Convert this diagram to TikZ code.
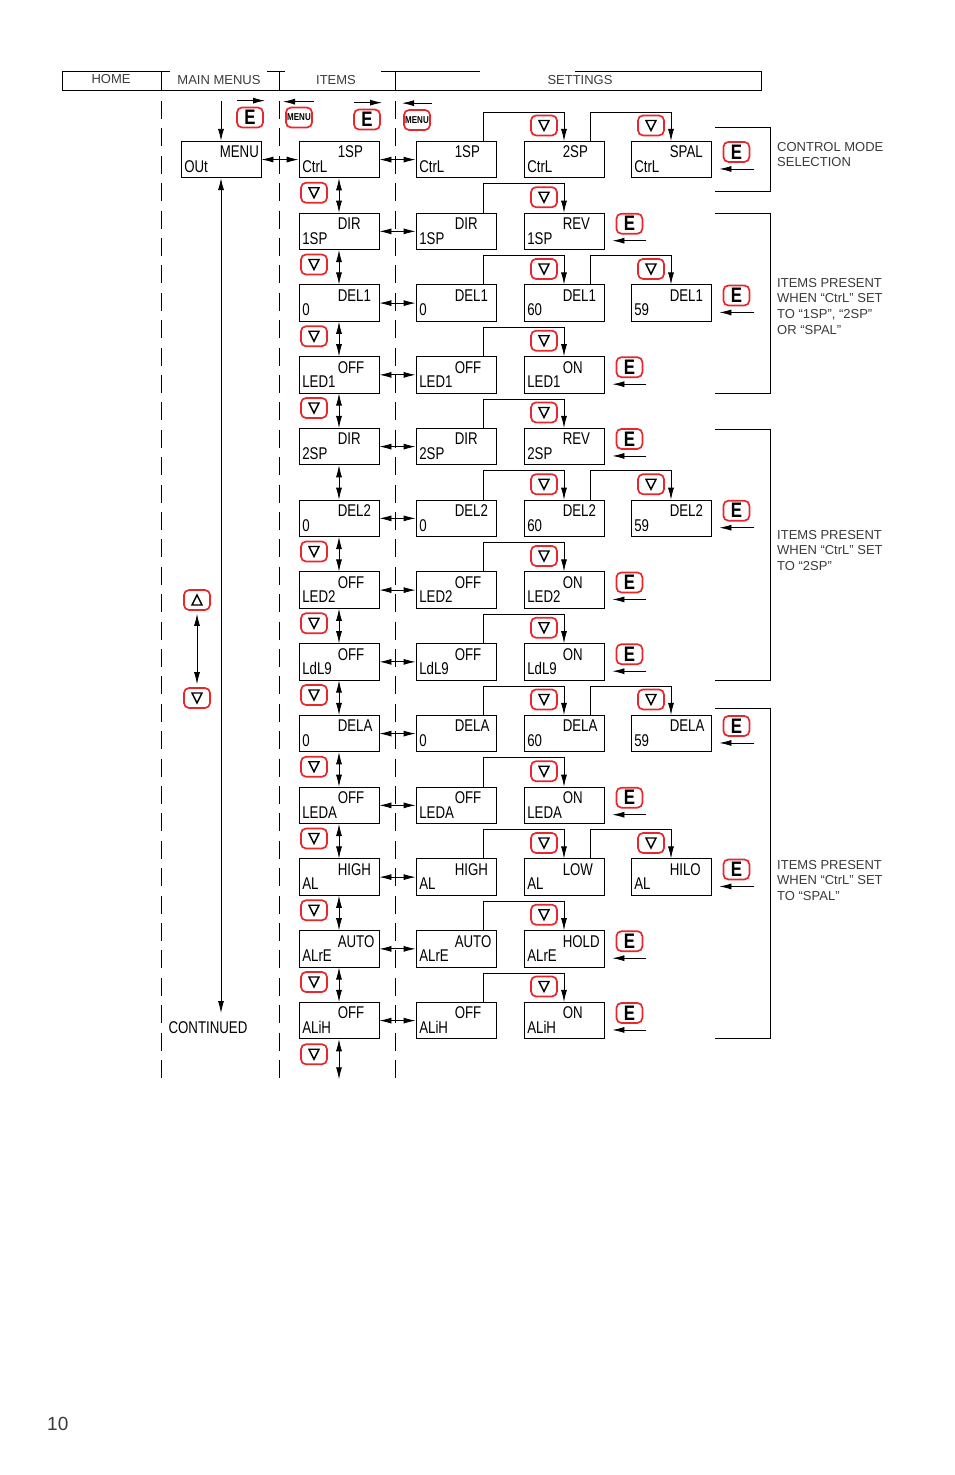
\documentclass[tikz,border=0pt]{standalone}
\usepackage{fontspec}
\usepackage{tikz}
\usetikzlibrary{arrows.meta, positioning, calc}
\setmainfont{Liberation Sans}
\newfontfamily\lcdfont[FakeStretch=0.78]{Liberation Sans}
\newfontfamily\keyfont[FakeStretch=0.8]{Liberation Sans Bold}
\definecolor{btnred}{HTML}{E8262C}
\definecolor{inkgray}{HTML}{3A3A3A}

% one display: frame plus upper and lower reading
\newcommand{\dispbox}[5]{%
  \node[disp] (#1) at (#2,#3) {};
  \node[upread] (#1-up) at ($(#1.north west)+(39,17)$) {#4};
  \node[upread] (#1-low) at ($(#1.north west)+(3.5,31.5)$) {#5};
}

\begin{document}
\begin{tikzpicture}[
    x=1pt, y=-1pt,
    disp/.style={rectangle, draw, line width=0.8pt, minimum width=80pt, minimum height=36.5pt, inner sep=0pt},
    upread/.style={anchor=base west, inner sep=0pt, font=\lcdfont\fontsize{17}{17}\selectfont},
    btn/.style={rectangle, draw=btnred, line width=1.7pt, rounded corners=5pt, minimum width=26pt, minimum height=20pt, inner sep=0pt},
    downbtn/.style={btn, path picture={\draw[black, line width=1.4pt, sharp corners] (-5,-5) -- (5,-5) -- (0,5) -- cycle;}},
    upbtn/.style={btn, path picture={\draw[black, line width=1.4pt, sharp corners] (-5,5) -- (5,5) -- (0,-5) -- cycle;}},
    ebtn/.style={btn, font=\keyfont\fontsize{21}{21}\selectfont},
    menubtn/.style={btn, font=\keyfont\fontsize{10}{10}\selectfont},
    wire/.style={line width=0.8pt},
    arr/.style={wire, -{Latex[length=12pt,width=6pt]}},
    dbl/.style={wire, {Latex[length=12pt,width=6pt]}-{Latex[length=12pt,width=6pt]}},
    head/.style={text=inkgray, inner sep=0pt, font=\fontsize{13}{13}\selectfont},
    note/.style={anchor=north west, align=left, text=inkgray, inner sep=0pt, font=\fontsize{13}{15.7}\selectfont},
    column/.style={line width=0.8pt, dash pattern=on 18pt off 9.4pt}]
  \useasboundingbox (0,0) rectangle (954,1475);

  % header strip
  \draw[wire] (170,71) -- (62,71) -- (62,90) -- (761,90) -- (761,71) -- (575,71);
  \draw[wire] (267,71) -- (285,71) (381,71) -- (480,71);
  \foreach \x in {161,279,395}
    \draw[wire] (\x,71) -- (\x,91);
  \node[head] (home) at (111,79) {HOME};
  \node[head] (mainmenus) at (219,80) {MAIN MENUS};
  \node[head] (items) at (336,80) {ITEMS};
  \node[head] (settings) at (580,80) {SETTINGS};

  % column rules
  \foreach \x in {161,279,395}
    \draw[column] (\x,101) -- (\x,1078);

  % home menu
  \dispbox{menu}{221}{159.5}{MENU}{OUt}
  \coordinate (menuin) at (221,101);
  \coordinate (contd) at (221,1013);
  \draw[arr] (menuin) -- (menu.north);
  \draw[dbl] (menu.south) -- (contd);
  \node[upread, anchor=center] (continued) at (208,1028) {CONTINUED};
  \node[upbtn] (upkey) at (197,600) {};
  \node[downbtn] (downkey) at (197,698) {};
  \coordinate (upkeyend) at ($(upkey.south)+(0,3)$);
  \coordinate (downkeyend) at ($(downkey.north)+(0,-3)$);
  \draw[dbl] (upkeyend) -- (downkeyend);

  % top key row
  \node[ebtn] (e1) at (250,117.5) {E};
  \node[menubtn] (m1) at (299,117.5) {MENU};
  \node[ebtn] (e2) at (367,119.5) {E};
  \node[menubtn] (m2) at (417,120) {MENU};
  \draw[arr] ($(e1.north)+(-13,-6)$) -- ($(e1.north)+(15,-6)$);
  \draw[arr] ($(m1.north)+(15,-5)$) -- ($(m1.north)+(-16,-5)$);
  \draw[arr] ($(e2.north)+(-13,-6)$) -- ($(e2.north)+(15,-6)$);
  \draw[arr] ($(m2.north)+(15,-6)$) -- ($(m2.north)+(-15,-6)$);

  % rows
  \foreach \r/\low/\up/\upb/\upc/\lowb in {
      0/CtrL/1SP/2SP/SPAL/CtrL,
      1/1SP/DIR/REV/-/1SP,
      2/0/DEL1/DEL1/DEL1/60,
      3/LED1/OFF/ON/-/LED1,
      4/2SP/DIR/REV/-/2SP,
      5/0/DEL2/DEL2/DEL2/60,
      6/LED2/OFF/ON/-/LED2,
      7/LdL9/OFF/ON/-/LdL9,
      8/0/DELA/DELA/DELA/60,
      9/LEDA/OFF/ON/-/LEDA,
      10/AL/HIGH/LOW/HILO/AL,
      11/ALrE/AUTO/HOLD/-/ALrE,
      12/ALiH/OFF/ON/-/ALiH} {
    \pgfmathsetmacro{\ypos}{159.6+71.75*\r}
    \dispbox{a\r}{339}{\ypos}{\up}{\low}
    \dispbox{b\r}{456}{\ypos}{\up}{\low}
    \dispbox{c\r}{564}{\ypos}{\upb}{\lowb}
    \draw[dbl] (a\r.east) -- (b\r.west);
    \node[downbtn] (nb\r) at ($(c\r.north)+(-20,-15.5)$) {};
    \coordinate (bt\r) at ($(b\r.north)+(27,0)$);
    \draw[arr] (bt\r) -- ++(0,-29) -| (c\r.north);
    \def\nocol{-}
    \ifx\upc\nocol
      \node[ebtn] (e\r) at ($(c\r.north east)+(25,11)$) {E};
      \coordinate (ret\r) at ($(c\r.north east)+(42,28)$);
      \coordinate (retend\r) at ($(c\r.north east)+(8,28)$);
      \draw[arr] (ret\r) -- (retend\r);
    \else
      \ifnum\r=2 \def\lowc{59}\else\ifnum\r=5 \def\lowc{59}\else\ifnum\r=8 \def\lowc{59}\else\def\lowc{\lowb}\fi\fi\fi
      \dispbox{d\r}{671}{\ypos}{\upc}{\lowc}
      \node[downbtn] (nc\r) at ($(d\r.north)+(-20,-15.5)$) {};
      \coordinate (ct\r) at ($(c\r.north)+(26,0)$);
      \draw[arr] (ct\r) -- ++(0,-29) -| (d\r.north);
      \node[ebtn] (e\r) at ($(d\r.north east)+(25,11)$) {E};
      \coordinate (ret\r) at ($(d\r.north east)+(43,28)$);
      \coordinate (retend\r) at ($(d\r.north east)+(8,28)$);
      \draw[arr] (ret\r) -- (retend\r);
    \fi
  }

  % links down the items column
  \draw[dbl] (menu.east) -- (a0.west);
  \foreach \r [remember=\r as \p (initially 0)] in {1,...,12}
    \draw[dbl] (a\p.south) -- (a\r.north);
  \foreach \r in {0,1,2,3,5,6,7,8,9,10,11}
    \node[downbtn] (na\r) at ($(a\r.south)+(-25,14.5)$) {};
  \node[downbtn] (na12) at ($(a12.south)+(-25,15)$) {};
  \coordinate (more) at ($(a12.south)+(0,40)$);
  \draw[dbl] (a12.south) -- (more);

  % brackets and their notes
  \foreach \t/\b in {127/191,213/393,429/680,708/1038}
    \draw[wire] (715,\t) -- (770,\t) -- (770,\b) -- (715,\b);
  \node[note] (note1) at (777,142) {CONTROL MODE\\SELECTION};
  \node[note] (note2) at (777,278) {ITEMS PRESENT\\WHEN “CtrL” SET\\TO “1SP”, “2SP”\\OR “SPAL”};
  \node[note] (note3) at (777,530) {ITEMS PRESENT\\WHEN “CtrL” SET\\TO “2SP”};
  \node[note] (note4) at (777,860) {ITEMS PRESENT\\WHEN “CtrL” SET\\TO “SPAL”};

  \node[anchor=base west, inner sep=0pt, text=inkgray, font=\fontsize{19}{19}\selectfont] (pageno) at (47,1430) {10};
\end{tikzpicture}
\end{document}
